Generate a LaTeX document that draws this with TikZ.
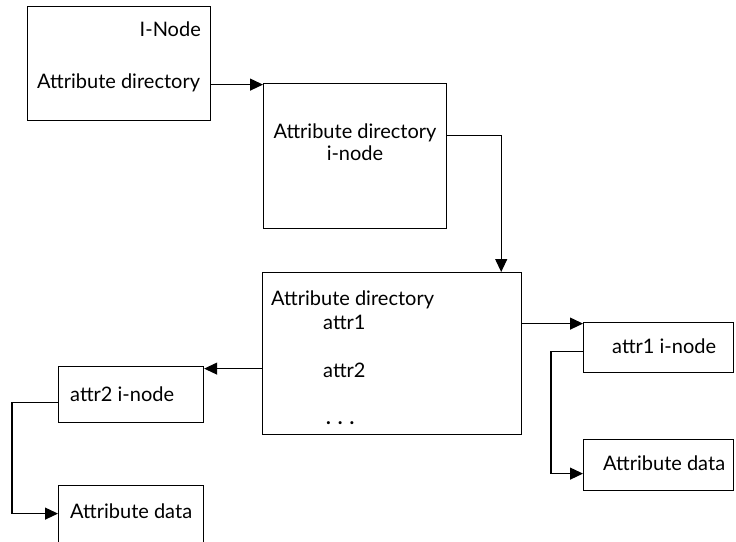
\documentclass[tikz,border=0pt]{standalone}
\usepackage{fontspec}
\setmainfont{Lato}
\usetikzlibrary{arrows.meta}
\begin{document}
\begin{tikzpicture}[x=1pt,y=-1pt,
  box/.style={draw,line width=1.2pt,anchor=north west,inner sep=0pt},
  lbl/.style={inner sep=0pt,font=\fontsize{20}{24}\selectfont},
  link/.style={line width=1.2pt,-{Triangle[length=13pt,width=12pt]}},
  plain/.style={line width=1.2pt}]
\useasboundingbox (0,0) rectangle (736,541);
\clip (0,0) rectangle (736,541);

% boxes
\node[box,minimum width=183pt,minimum height=114pt] (inode) at (27,6) {};
\node[box,minimum width=183pt,minimum height=145pt] (adir) at (263,83) {};
\node[box,minimum width=259pt,minimum height=162pt] (dir) at (262,272) {};
\node[box,minimum width=150pt,minimum height=50pt] (a1) at (583,322) {};
\node[box,minimum width=150pt,minimum height=51pt] (d1) at (583,439) {};
\node[box,minimum width=145pt,minimum height=56pt] (a2) at (58,366) {};
\node[box,minimum width=145pt,minimum height=60pt] (d2) at (58,485) {};

% labels
\node[lbl,anchor=base east] (inodeName) at (201,36) {I-Node};
\node[lbl,anchor=base west] (inodeDir) at (37,88) {Attribute directory};
\node[lbl,anchor=base] (adirName) at (355,138) {Attribute directory};
\node[lbl,anchor=base] (adirSub) at (355,160) {i-node};
\node[lbl,anchor=base west] (dirName) at (271,305) {Attribute directory};
\node[lbl,anchor=base west] (dirA1) at (323,329) {attr1};
\node[lbl,anchor=base west] (dirA2) at (323,377) {attr2};
\node[lbl,anchor=base west] (dirMore) at (326,424) {\textbf{.}\hspace{7pt}\textbf{.}\hspace{7pt}\textbf{.}};
\node[lbl,anchor=base west] (a1Name) at (612,353) {attr1 i-node};
\node[lbl,anchor=base west] (d1Name) at (603,470) {Attribute data};
\node[lbl,anchor=base west] (a2Name) at (70,401) {attr2 i-node};
\node[lbl,anchor=base west] (d2Name) at (70,518) {Attribute data};

% connectors
\draw[link] ([yshift=-21pt]inode.east) -- ([yshift=-21pt]inode.east -| adir.west);
\draw[link] ([yshift=20.5pt]adir.east) -| ([xshift=-21pt]dir.north east);
\draw[link] ([yshift=30pt]dir.east) -- ([yshift=30pt]dir.east -| a1.west);
\draw[link] ([yshift=-15pt]dir.west) -- ([yshift=-15pt]dir.west -| a2.east);
\draw[link] ([yshift=-4pt]a1.west) -- ++(-32,0) |- ([yshift=-8.5pt]d1.west);
\draw[link] ([yshift=-8pt]a2.west) -- ++(-46,0) |- ([yshift=2pt]d2.west);
\end{tikzpicture}
\end{document}
